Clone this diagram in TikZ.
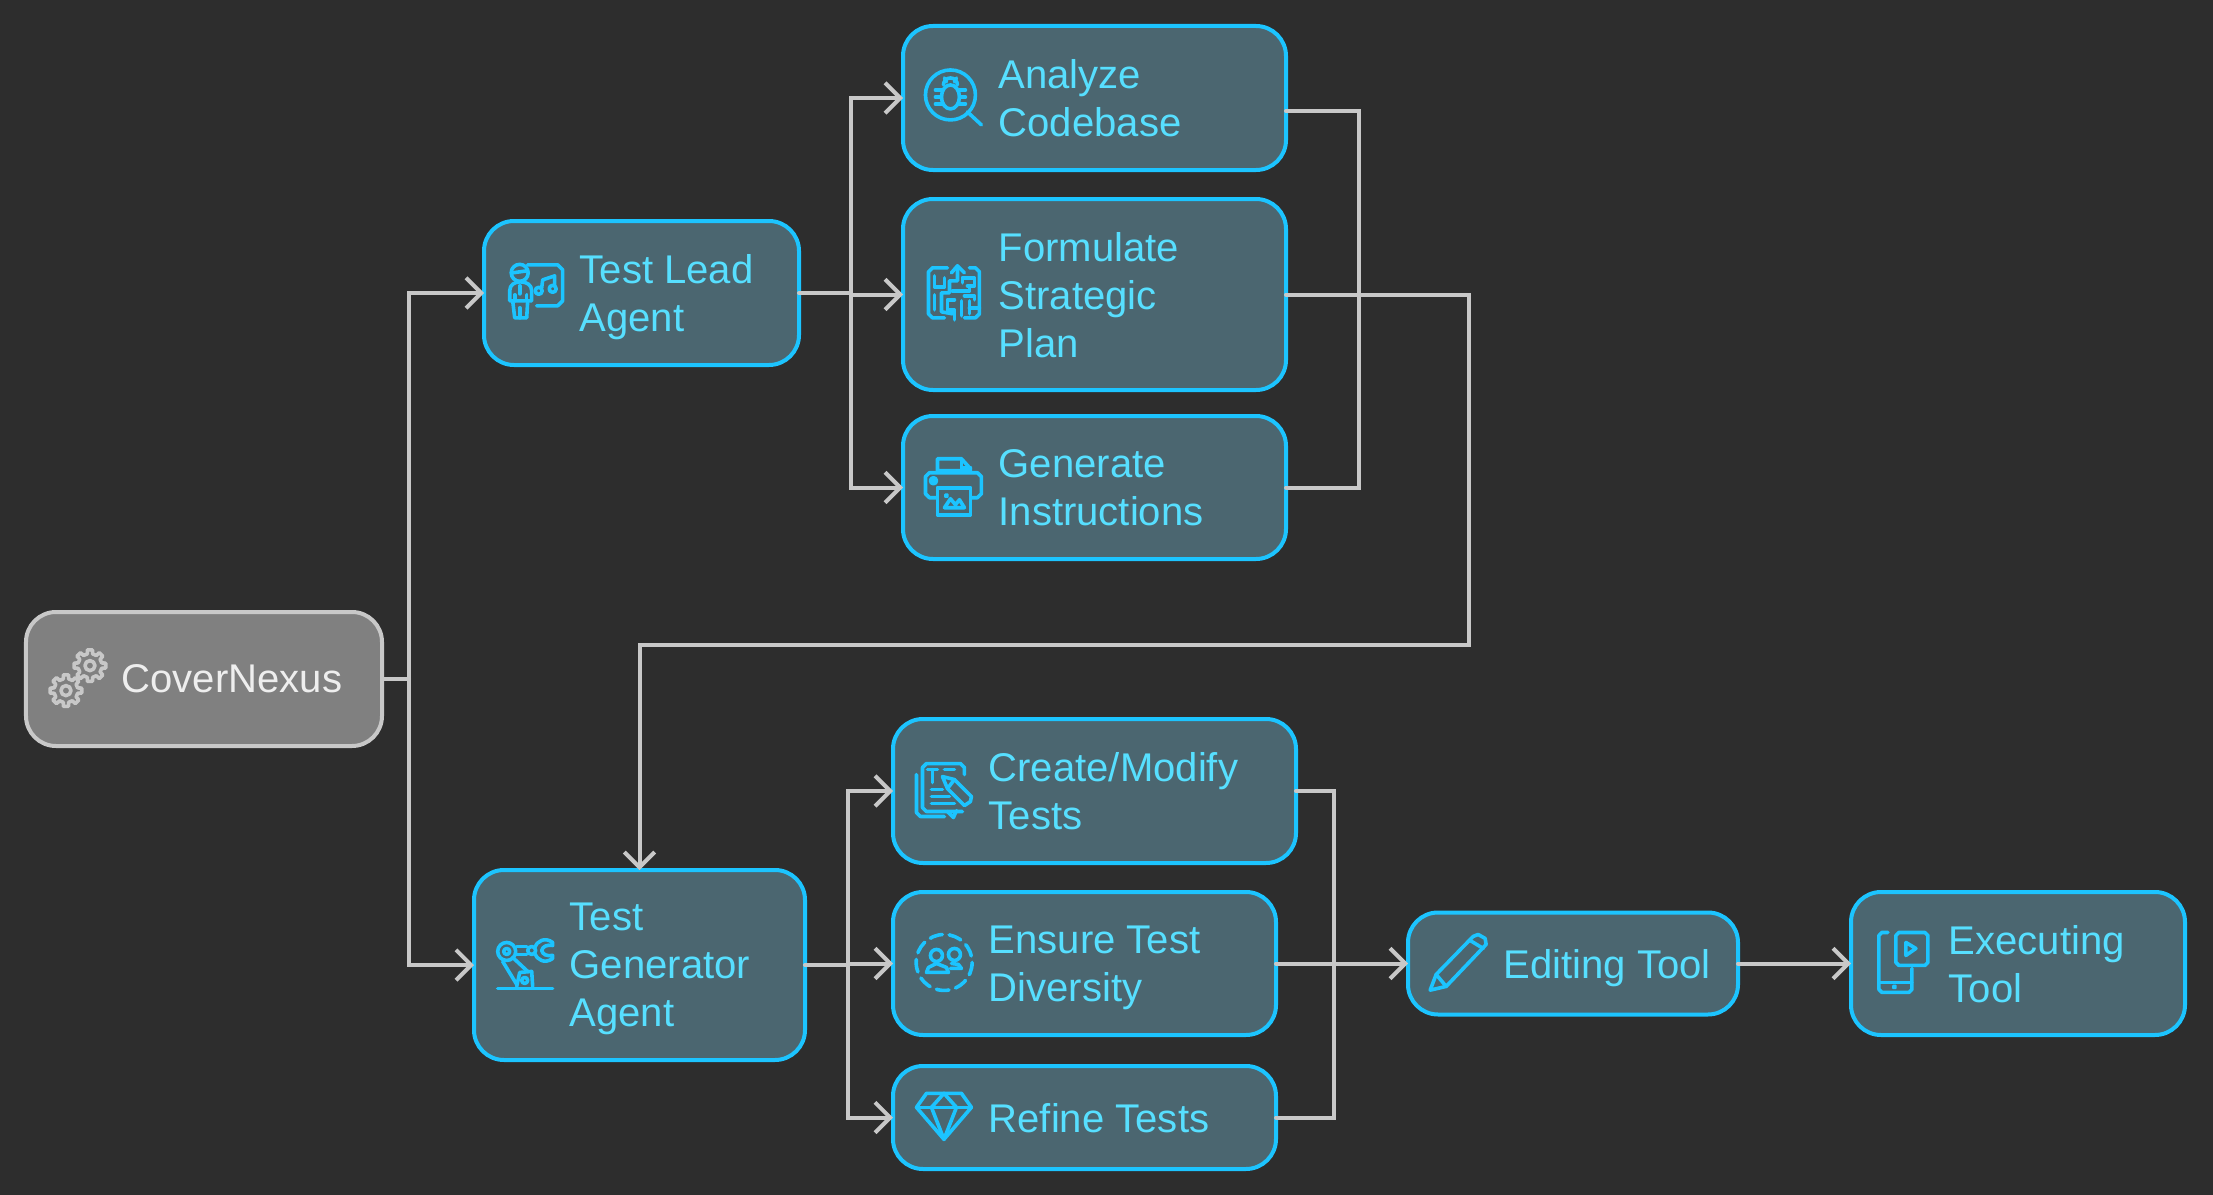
\documentclass[tikz,border=0pt]{standalone}
\usepackage{fontspec}
\setmainfont{Liberation Sans}
\usetikzlibrary{arrows.meta, positioning}
\definecolor{canvas}{HTML}{2D2D2D}
\definecolor{agentfill}{HTML}{4B6670}
\definecolor{agentline}{HTML}{1CC4FF}
\definecolor{agenttext}{HTML}{57DFFF}
\definecolor{rootfill}{HTML}{808080}
\definecolor{rootline}{HTML}{C8C8C8}
\definecolor{roottext}{HTML}{EEEEEE}
\newcommand{\gearglyph}[2]{%
  \draw[shift={(#1,#2)},line join=round] (-13:12) \foreach \a in {0,45,...,315} {-- (\a-13:12) -- (\a-9:16) -- (\a+9:16) -- (\a+13:12)} -- cycle;
  \draw[shift={(#1,#2)}] (0,0) circle (5);}
\begin{document}
\begin{tikzpicture}[
    agentbox/.style={draw=agentline,fill=agentfill,line width=.04cm,rounded corners=.3cm,outer sep=0pt,inner sep=0pt},
    rootbox/.style={agentbox,draw=rootline,fill=rootfill},
    agentlabel/.style={text=agenttext,inner sep=0pt,text depth=0pt,align=left,font=\fontsize{11.4}{13.66}\selectfont},
    rootlabel/.style={agentlabel,text=roottext},
    link/.style={draw=rootline,line width=.04cm,line cap=round},
    tolink/.style={link,-{Straight Barb[length=4.3pt,width=8.6pt,line width=.04cm]}},
    icon/.style={x=.01cm,y=-.01cm,draw=agentline,line width=.036cm,line cap=round,line join=round}]
    \fill[canvas] (0,0) rectangle (22.13,-11.95);

    \node[rootbox,minimum width=3.56cm,minimum height=1.34cm] (cover) at (2.04,-6.79) {};
    \node[agentbox,minimum width=3.15cm,minimum height=1.44cm] (lead) at (6.415,-2.93) {};
    \node[agentbox,minimum width=3.83cm,minimum height=1.44cm] (analyze) at (10.945,-.98) {};
    \node[agentbox,minimum width=3.83cm,minimum height=1.91cm] (formulate) at (10.945,-2.945) {};
    \node[agentbox,minimum width=3.83cm,minimum height=1.43cm] (generate) at (10.945,-4.875) {};
    \node[agentbox,minimum width=3.31cm,minimum height=1.90cm] (gen) at (6.395,-9.65) {};
    \node[agentbox,minimum width=4.03cm,minimum height=1.44cm] (create) at (10.945,-7.91) {};
    \node[agentbox,minimum width=3.83cm,minimum height=1.43cm] (ensure) at (10.845,-9.635) {};
    \node[agentbox,minimum width=3.83cm,minimum height=1.03cm] (refine) at (10.845,-11.175) {};
    \node[agentbox,minimum width=3.30cm,minimum height=1.02cm] (editing) at (15.73,-9.635) {};
    \node[agentbox,minimum width=3.34cm,minimum height=1.43cm] (executing) at (20.18,-9.635) {};

    \node[rootlabel,right=.95cm of cover.west] (coverlabel) {CoverNexus};
    \node[agentlabel,right=.95cm of lead.west] (leadlabel) {Test Lead\\Agent};
    \node[agentlabel,right=.95cm of analyze.west] (analyzelabel) {Analyze\\Codebase};
    \node[agentlabel,right=.95cm of formulate.west] (formulatelabel) {Formulate\\Strategic\\Plan};
    \node[agentlabel,right=.95cm of generate.west] (generatelabel) {Generate\\Instructions};
    \node[agentlabel,right=.95cm of gen.west] (genlabel) {Test\\Generator\\Agent};
    \node[agentlabel,right=.95cm of create.west] (createlabel) {Create/Modify\\Tests};
    \node[agentlabel,right=.95cm of ensure.west] (ensurelabel) {Ensure Test\\Diversity};
    \node[agentlabel,right=.95cm of refine.west] (refinelabel) {Refine Tests};
    \node[agentlabel,right=.95cm of editing.west] (editinglabel) {Editing Tool};
    \node[agentlabel,right=.97cm of executing.west] (executinglabel) {Executing\\Tool};

    \coordinate (busa) at (4.09,-6.79);
    \coordinate (busb) at (8.51,-2.93);
    \coordinate (busc) at (8.48,-9.635);
    \coordinate (mergea) at (13.59,-2.945);
    \coordinate (mergeb) at (13.34,-9.635);
    \coordinate (turn) at (14.69,-6.45);

    \draw[link] (cover.east) -- (busa);
    \draw[tolink] (busa) |- (lead.west);
    \draw[tolink] (busa) |- (gen.west);
    \draw[link] (lead.east) -- (busb);
    \draw[tolink] (busb) |- (analyze.west);
    \draw[tolink] (busb) |- (formulate.west);
    \draw[tolink] (busb) |- (generate.west);
    \draw[link] ([yshift=-.13cm]analyze.east) -| (mergea);
    \draw[link] (generate.east) -| (mergea);
    \draw[tolink] (formulate.east) -| (turn) -| (gen.north);
    \draw[link] (gen.east) -| (busc);
    \draw[tolink] (busc) |- (create.west);
    \draw[tolink] (busc) |- (ensure.west);
    \draw[tolink] (busc) |- (refine.west);
    \draw[link] (create.east) -| (mergeb);
    \draw[link] (refine.east) -| (mergeb);
    \draw[tolink] (ensure.east) -- (editing.west);
    \draw[tolink] (editing.east) -- (executing.west);

    \begin{scope}[icon,draw=rootline]
        \gearglyph{90}{666}
        \gearglyph{66}{691}
    \end{scope}

    \begin{scope}[icon]
        % lead
        \draw (520,273) circle (8.5);
        \draw (513,273) -- (527,271);
        \draw (510,301) -- (510,291) .. controls (510,285) and (515,282) .. (520.5,282) .. controls (527,282) and (532,285) .. (532,291) -- (532,301) -- cycle;
        \draw (513,301) -- (515,318) -- (527,318) -- (528,301);
        \draw (520,308) -- (520,318);
        \draw (520,286) -- (520,294);
        \draw (515,295) -- (515,301);
        \draw (527,295) -- (527,301);
        \draw (528,265) -- (558,265) -- (563,270) -- (563,301) -- (558,306) -- (537,306);
        \draw (539,291) circle (3.5);
        \draw (553,289) circle (3.5);
        \draw (542,288) -- (543,280) -- (555,276) -- (555,286);

        % analyze
        \draw (951,95) circle (25);
        \draw (968,112) -- (982,125);
        \draw (951,97) ellipse (9 and 12);
        \draw (944,85) arc[start angle=180,end angle=360,radius=7];
        \draw (945,78) -- (947,82);
        \draw (957,78) -- (955,82);
        \foreach \yy in {90,97,104} {
            \draw (936,\yy) -- (942,\yy);
            \draw (960,\yy) -- (966,\yy);
        }

        % formulate
        \draw (948,268) -- (933,268) -- (929,272) -- (929,314) -- (933,318) -- (945,318);
        \draw (970,268) -- (976,268) -- (980,272) -- (980,314) -- (976,318) -- (965,318);
        \draw (935,276) -- (935,287) -- (945,287) -- (945,278);
        \draw (952,273) -- (958,266) -- (965,273);
        \draw (958,266) -- (958,281) -- (950,281) -- (950,293) -- (942,293) -- (942,312) -- (953,314);
        \draw (935,295) -- (935,310);
        \draw (963,283) -- (963,278) -- (975,278) -- (975,286) -- (968,286);
        \draw (953,291) -- (970,291) -- (970,286);
        \draw (955,300) -- (948,300) -- (948,310) -- (955,310) -- (955,320);
        \draw (962,301) -- (962,316);
        \draw (965,296) -- (975,296) -- (975,300);
        \draw (970,301) -- (970,314);
        \draw (970,308) -- (980,308);

        % generate
        \draw (938,471) -- (938,459) -- (962,459) -- (971,469) -- (971,471) -- (938,471);
        \draw (962,459) -- (962,468) -- (971,468);
        \draw (938,498) -- (930,498) -- (926,494) -- (926,477) -- (930,473) -- (978,473) -- (982,477) -- (982,494) -- (978,498) -- (971,498);
        \draw[fill=agentline] (934,481) circle (3);
        \draw[fill=agentfill] (938,488) rectangle (971,515);
        \draw (945,508) -- (951,499) -- (956,505) -- (960,500) -- (965,508) -- cycle;
        \draw[fill=agentline] (947,496) circle (1);

        % gen
        \draw (498,989) -- (553,989);
        \draw (517,987) -- (520,973) -- (532,972) -- (533,987);
        \draw (525,981) circle (3);
        \draw (507,952) circle (9);
        \draw (507,952) circle (3);
        \draw (503,962) -- (517,985);
        \draw (513,958) -- (528,972);
        \draw (517,947) -- (527,947);
        \draw (517,955) -- (527,955);
        \draw (532,951) circle (4);
        \draw (535,948) .. controls (537,942) and (545,937) .. (553,943) -- (553,946) .. controls (547,945) and (543,947) .. (542,951) .. controls (543,955) and (547,957) .. (553,956) -- (553,959) .. controls (545,965) and (537,960) .. (535,954);

        % create
        \draw (917,775) -- (917,813) -- (921,817) -- (945,817);
        \draw (963,812) -- (948,812) -- (954,818) -- (957,811);
        \draw (948,812) -- (927,812) -- (923,808) -- (923,768) -- (927,764) -- (961,764) -- (965,768) -- (965,775);
        \draw (928,770) -- (938,770);
        \draw (933,770) -- (933,783);
        \draw (945,770) -- (955,770);
        \draw (932,790) -- (943,790);
        \draw (932,797) -- (950,797);
        \draw (932,804) -- (955,804);
        \draw[fill=agentfill] (943,777) -- (955,780) -- (972,797) -- (971,802) -- (965,806) -- (948,789) -- cycle;
        \draw (948,789) -- (955,780);

        % ensure
        \draw[dash pattern=on 3.6pt off 1.96pt,line cap=round] (944.7,963) circle (28);
        \draw (937,956) circle (6);
        \draw (955,955) circle (6);
        \draw (927,973) -- (929,968) -- (937,964) -- (947,968) -- (949,973) -- cycle;
        \draw (952,964) -- (959,965) -- (962,969) -- (951,969);

        % refine
        \draw (927,1094) -- (962,1094) -- (972,1108) -- (944.5,1140) -- (917,1108) -- cycle;
        \draw (917,1108) -- (972,1108);
        \draw (932,1108) -- (944.5,1094) -- (957,1108);
        \draw (932,1108) -- (944.5,1140) -- (957,1108);

        % editing
        \draw (1431,990.7) -- (1437,975) -- (1474,937) -- (1479,935) -- (1486,939) -- (1487,945) -- (1447,987) -- cycle;
        \draw (1437,975) -- (1447,987);
        \draw (1471,941) -- (1484,949);

        % executing
        \draw (1889,933) -- (1883,933) -- (1880,936) -- (1880,990) -- (1883,993) -- (1910,993) -- (1913,990) -- (1913,969);
        \draw (1880,983) -- (1913,983);
        \draw[fill=agentline] (1895.5,987.5) circle (1);
        \draw (1900,933) -- (1926,933) -- (1929,936) -- (1929,963) -- (1926,966) -- (1900,966) -- (1897,963) -- (1897,936) -- cycle;
        \draw (1907,943) -- (1917,949) -- (1907,956) -- cycle;
    \end{scope}
\end{tikzpicture}
\end{document}
